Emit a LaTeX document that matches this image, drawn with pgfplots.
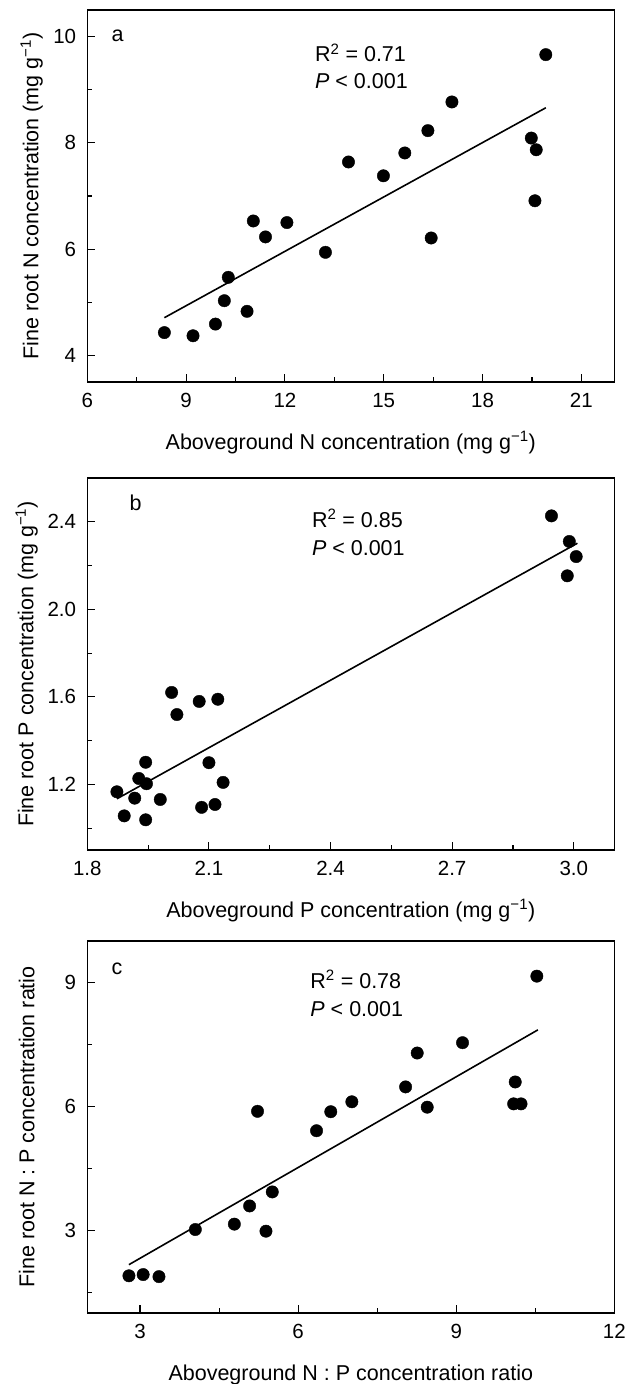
\documentclass[border=0pt]{standalone}
\usepackage{fontspec}
\setmainfont{Liberation Sans}
\usepackage{pgfplots}
\pgfplotsset{compat=1.18}

\pgfplotsset{
  myax/.style={
    scale only axis, width=527pt, height=372pt,
    anchor=north west, clip=false,
    axis line style={line width=1.2pt},
    tick align=inside, tick pos=left,
    major tick length=8pt, minor tick length=5pt,
    every tick/.style={line width=1.1pt, black},
    tick label style={font=\fontsize{20.5}{24}\selectfont},
    xticklabel style={inner sep=0pt, yshift=-11pt},
    yticklabel style={inner sep=0pt, xshift=-11pt},
    /pgf/number format/assume math mode=true,
    every axis x label/.style={at={(axis description cs:0.5,0)}, anchor=base, yshift=-67pt, font=\fontsize{21.5}{26}\selectfont},
    every axis y label/.style={at={(axis description cs:0,0.5)}, xshift=\ylabshift, rotate=90, anchor=base, font=\fontsize{21.5}{26}\selectfont},
  },
  dots/.style={only marks, mark=*, mark size=6.2pt, black},
  fit/.style={black, line width=1.6pt, no marks},
}
\tikzset{ann/.style={anchor=base west, inner sep=0pt, font=\fontsize{21.5}{26}\selectfont}}
\newcommand{\ylabshift}{-50pt}

\begin{document}
\begin{tikzpicture}
% ---------------- panel a ----------------
\renewcommand{\ylabshift}{-49pt}
\begin{axis}[myax, at={(87.3pt,-10pt)},
  xmin=6, xmax=22, ymin=3.5, ymax=10.5,
  xtick={6,9,12,15,18,21}, minor xtick={7.5,10.5,13.5,16.5,19.5},
  ytick={4,6,8,10}, minor ytick={5,7,9},
  xlabel={Aboveground N concentration (mg g\textsuperscript{−1})},
  ylabel={Fine root N concentration (mg g\textsuperscript{−1})}]
\addplot[dots] coordinates {
 (8.34,4.43) (9.21,4.37) (9.89,4.59) (10.16,5.03) (10.28,5.47)
 (10.85,4.83) (11.04,6.53) (11.41,6.23) (12.06,6.50) (13.23,5.94)
 (13.93,7.64) (14.99,7.38) (15.64,7.81) (16.34,8.23) (16.44,6.21)
 (17.07,8.77) (19.48,8.09) (19.63,7.87) (19.59,6.91) (19.92,9.66)};
\addplot[fit] coordinates {(8.34,4.71) (19.92,8.66)};
\node[ann] at (rel axis cs:0.046,0.915) {a};
\node[ann] at (rel axis cs:0.432,0.861) {R\textsuperscript{2} = 0.71};
\node[ann] at (rel axis cs:0.432,0.789) {\textit{P} < 0.001};
\end{axis}
% ---------------- panel b ----------------
\renewcommand{\ylabshift}{-54pt}
\begin{axis}[myax, at={(87.3pt,-478pt)},
  xmin=1.8, xmax=3.1, ymin=0.9, ymax=2.6,
  xtick={1.8,2.1,2.4,2.7,3.0}, minor xtick={1.95,2.25,2.55,2.85},
  ytick={1.2,1.6,2.0,2.4}, minor ytick={1.0,1.4,1.8,2.2},
  xticklabel style={/pgf/number format/.cd, fixed, fixed zerofill, precision=1},
  yticklabel style={/pgf/number format/.cd, fixed, fixed zerofill, precision=1},
  xlabel={Aboveground P concentration (mg g\textsuperscript{−1})},
  ylabel={Fine root P concentration (mg g\textsuperscript{−1})}]
\addplot[dots] coordinates {
 (2.945,2.427) (2.989,2.310) (3.006,2.241) (2.984,2.153) (2.008,1.620)
 (2.021,1.519) (2.076,1.579) (2.122,1.589) (1.944,1.301) (2.100,1.299)
 (1.927,1.227) (1.946,1.203) (2.135,1.209) (1.873,1.166) (1.917,1.137)
 (1.980,1.131) (1.891,1.056) (1.944,1.038) (2.082,1.095) (2.115,1.108)};
\addplot[fit] coordinates {(1.873,1.134) (3.009,2.302)};
\node[ann] at (rel axis cs:0.080,0.914) {b};
\node[ann] at (rel axis cs:0.426,0.867) {R\textsuperscript{2} = 0.85};
\node[ann] at (rel axis cs:0.426,0.791) {\textit{P} < 0.001};
\end{axis}
% ---------------- panel c ----------------
\renewcommand{\ylabshift}{-53pt}
\begin{axis}[myax, at={(87.3pt,-941pt)},
  xmin=2, xmax=12, ymin=1, ymax=10,
  xtick={3,6,9,12}, minor xtick={4.5,7.5,10.5},
  ytick={3,6,9}, minor ytick={1.5,4.5,7.5},
  xlabel={Aboveground N : P concentration ratio},
  ylabel={Fine root N : P concentration ratio}]
\addplot[dots] coordinates {
 (10.53,9.15) (9.12,7.54) (8.26,7.29) (8.04,6.47) (10.12,6.59)
 (10.09,6.06) (10.23,6.06) (8.45,5.98) (7.02,6.11) (6.62,5.87)
 (5.23,5.88) (6.35,5.41) (5.51,3.93) (5.08,3.59) (4.79,3.15)
 (4.05,3.02) (5.39,2.98) (2.79,1.90) (3.06,1.93) (3.36,1.88)};
\addplot[fit] coordinates {(2.79,2.17) (10.55,7.85)};
\node[ann] at (rel axis cs:0.046,0.909) {c};
\node[ann] at (rel axis cs:0.423,0.873) {R\textsuperscript{2} = 0.78};
\node[ann] at (rel axis cs:0.423,0.7965) {\textit{P} < 0.001};
\end{axis}
\pgfresetboundingbox
\useasboundingbox (0pt,0pt) rectangle (627pt,-1384pt);
\end{tikzpicture}
\end{document}
